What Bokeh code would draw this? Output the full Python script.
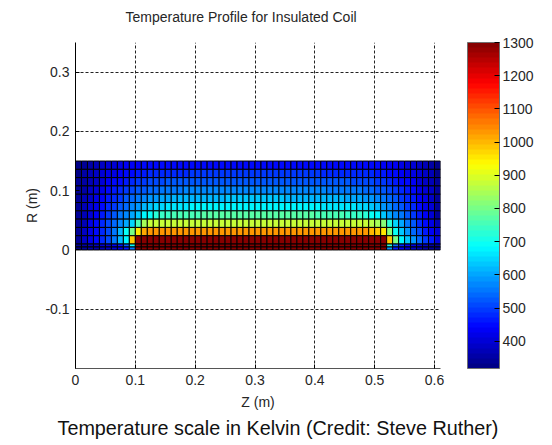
import math
from bokeh.plotting import figure
from bokeh.models import (Range1d, FixedTicker, ColorBar, LinearColorMapper, Title,
                          ColumnDataSource)
from bokeh.transform import linear_cmap
from bokeh.embed import file_html
from bokeh.resources import INLINE

# ---------------- data ----------------
z_edges = [0.00, 0.01, 0.02, 0.03, 0.04, 0.05, 0.06, 0.07, 0.08, 0.09,
           0.10, 0.11, 0.12, 0.13, 0.14, 0.15, 0.16, 0.17, 0.18, 0.19,
           0.20, 0.21, 0.22, 0.23, 0.24, 0.25, 0.26, 0.27, 0.28, 0.29,
           0.30, 0.31, 0.32, 0.33, 0.34, 0.35, 0.36, 0.37, 0.38, 0.39,
           0.40, 0.41, 0.42, 0.43, 0.44, 0.45, 0.46, 0.47, 0.48, 0.49,
           0.50, 0.51, 0.52, 0.53, 0.54, 0.55, 0.56, 0.57, 0.58, 0.59,
           0.60, 0.61]
r_edges = [0.150, 0.136, 0.122, 0.108, 0.094, 0.080, 0.066, 0.052,
           0.038, 0.024, 0.010, 0.005, 0.000]

temp_r0 = ([330, 345, 360, 372, 385, 397, 408, 418, 426, 433, 438, 442, 445, 447, 449] +
           [450, 451, 451, 452, 452, 453, 453, 453, 454, 454, 454, 454, 455, 455, 455, 455,
            455, 455, 455, 454, 454, 454, 454, 453, 453, 453, 452, 452, 451, 451, 450] +
           [450, 449, 447, 445, 442, 438, 433, 426, 418, 408, 397, 385, 372, 360, 330])
temp_r1 = ([333, 350, 367, 382, 397, 411, 424, 436, 446, 455, 462, 468, 473, 477, 480] +
           [482, 484, 485, 486, 487, 488, 488, 489, 489, 489, 490, 490, 490, 490, 490, 490,
            490, 490, 490, 490, 489, 489, 489, 488, 488, 487, 486, 485, 484, 483, 482] +
           [481, 480, 477, 473, 468, 462, 455, 446, 436, 424, 411, 397, 382, 367, 333])
temp_r2 = ([336, 356, 375, 393, 410, 426, 441, 455, 468, 480, 490, 499, 506, 512, 516] +
           [519, 521, 523, 524, 525, 526, 526, 527, 527, 527, 528, 528, 528, 528, 528, 528,
            528, 528, 528, 528, 527, 527, 527, 526, 526, 525, 524, 523, 522, 520, 518] +
           [517, 516, 512, 506, 499, 490, 480, 468, 455, 441, 426, 410, 393, 375, 336])
temp_r3 = ([338, 361, 383, 404, 424, 442, 460, 477, 493, 508, 521, 532, 541, 548, 554] +
           [558, 561, 563, 564, 565, 566, 566, 567, 567, 567, 568, 568, 568, 568, 568, 568,
            568, 568, 568, 568, 567, 567, 567, 566, 566, 565, 564, 563, 561, 559, 557] +
           [556, 554, 548, 541, 532, 521, 508, 493, 477, 460, 442, 424, 404, 383, 338])
temp_r4 = ([341, 366, 391, 414, 437, 459, 480, 500, 520, 539, 556, 571, 584, 594, 602] +
           [608, 612, 615, 618, 620, 621, 622, 623, 624, 624, 625, 625, 625, 625, 625, 625,
            625, 625, 625, 625, 624, 624, 624, 623, 622, 621, 620, 618, 615, 612, 608] +
           [605, 602, 594, 584, 571, 556, 539, 520, 500, 480, 459, 437, 414, 391, 341])
temp_r5 = ([343, 371, 398, 424, 450, 475, 500, 524, 548, 572, 594, 614, 631, 645, 655] +
           [661, 665, 668, 670, 671, 672, 673, 673, 674, 674, 674, 674, 674, 674, 674, 674,
            674, 674, 674, 674, 674, 674, 673, 673, 672, 671, 670, 668, 665, 662, 658] +
           [656, 655, 645, 631, 614, 594, 572, 548, 524, 500, 475, 450, 424, 398, 343])
temp_r6 = ([345, 375, 405, 434, 463, 491, 520, 549, 578, 608, 640, 672, 700, 722, 738] +
           [746, 752, 756, 759, 761, 762, 763, 764, 764, 765, 765, 765, 765, 765, 765, 765,
            765, 765, 765, 765, 765, 765, 764, 764, 763, 762, 761, 759, 756, 752, 746] +
           [742, 738, 722, 700, 672, 640, 608, 578, 549, 520, 491, 463, 434, 405, 345])
temp_r7 = ([347, 379, 411, 443, 475, 507, 540, 570, 600, 650, 760, 850, 872, 878, 880] +
           [881, 882, 882, 883, 883, 883, 884, 884, 884, 884, 884, 884, 884, 884, 884, 884,
            884, 884, 884, 884, 884, 884, 884, 883, 883, 883, 882, 882, 882, 881, 881] +
           [880, 878, 872, 862, 845, 810, 720, 650, 600, 560, 520, 485, 450, 415, 370])
temp_r8 = ([348, 380, 412, 445, 478, 512, 555, 610, 700, 800, 950, 1010, 1028, 1032, 1034] +
           [1035, 1035, 1036, 1036, 1036, 1036, 1036, 1037, 1037, 1037, 1037, 1037, 1037, 1037,
            1037, 1037, 1037, 1037, 1037, 1037, 1037, 1037, 1037, 1036, 1036, 1036, 1036, 1036,
            1035, 1035, 1035] +
           [1033, 1030, 1025, 1005, 985, 960, 820, 700, 640, 590, 545, 505, 470, 435, 395])
temp_r9 = ([345, 380, 420, 450, 479, 515, 557, 613, 672, 980, 1300, 1300, 1300, 1300, 1300] +
           [1300] * 31 +
           [1300, 1300, 1300, 1300, 1300, 1300, 980, 802, 686, 633, 585, 547, 499, 469, 407])
temp_r10 = ([335, 350, 365, 380, 395, 410, 430, 460, 520, 700, 1300, 1300, 1300, 1300, 1300] +
            [1300] * 31 +
            [1300, 1300, 1300, 1300, 1300, 1300, 720, 540, 480, 450, 420, 400, 380, 360, 340])
temp_r11 = ([330, 340, 350, 360, 370, 380, 395, 420, 460, 560, 1300, 1300, 1300, 1300, 1300] +
            [1300] * 31 +
            [1300, 1300, 1300, 1300, 1300, 1300, 580, 470, 430, 400, 380, 365, 350, 340, 330])
temp_rows = [temp_r0, temp_r1, temp_r2, temp_r3, temp_r4, temp_r5, temp_r6,
             temp_r7, temp_r8, temp_r9, temp_r10, temp_r11]

t_low, t_high = 318, 1300
cbar_ticks = [400, 500, 600, 700, 800, 900, 1000, 1100, 1200, 1300]
x_ticks = [0, 0.1, 0.2, 0.3, 0.4, 0.5, 0.6]
x_tick_labels = ["0", "0.1", "0.2", "0.3", "0.4", "0.5", "0.6"]
y_ticks = [-0.1, 0, 0.1, 0.2, 0.3]
y_tick_labels = ["-0.1", "0", "0.1", "0.2", "0.3"]

title_text = "Temperature Profile for Insulated Coil"
x_label_text = "Z (m)"
y_label_text = "R (m)"
caption_text = "Temperature scale in Kelvin (Credit: Steve Ruther)"

# ---------------- jet colormap (64 levels) ----------------
def _clip(v):
    return max(0.0, min(1.0, v))

jet64 = []
for i in range(64):
    t = (i + 0.5) / 64
    r = _clip(1.5 - abs(4 * t - 3))
    g = _clip(1.5 - abs(4 * t - 2))
    b = _clip(1.5 - abs(4 * t - 1))
    jet64.append("#%02x%02x%02x" % (round(r * 255), round(g * 255), round(b * 255)))

# ---------------- cells ----------------
L, R, B, T, V = [], [], [], [], []
for ri, row in enumerate(temp_rows):
    for ci, val in enumerate(row):
        L.append(z_edges[ci]); R.append(z_edges[ci + 1])
        T.append(r_edges[ri]); B.append(r_edges[ri + 1])
        V.append(val)
src = ColumnDataSource(dict(left=L, right=R, bottom=B, top=T, temp=V))

FONT = "Liberation Sans"
TXT = "#262626"

p = figure(width=552, height=445, x_range=Range1d(0, 0.61), y_range=Range1d(-0.2, 0.35),
           output_backend="svg", toolbar_location=None, title=None,
           min_border_left=75, min_border_right=112, min_border_top=42, min_border_bottom=77)
p.outline_line_color = None
p.background_fill_color = "white"
p.border_fill_color = "white"

p.quad(left="left", right="right", bottom="bottom", top="top", source=src,
       fill_color=linear_cmap("temp", jet64, t_low, t_high),
       line_color="black", line_width=1)

# axes
p.xaxis.ticker = FixedTicker(ticks=x_ticks)
p.yaxis.ticker = FixedTicker(ticks=y_ticks)
p.xaxis.major_label_overrides = {k: v for k, v in zip(x_ticks, x_tick_labels)}
p.yaxis.major_label_overrides = {k: v for k, v in zip(y_ticks, y_tick_labels)}
p.xaxis.axis_label = x_label_text
p.yaxis.axis_label = y_label_text
for ax in (p.xaxis[0], p.yaxis[0]):
    ax.major_tick_in = 4
    ax.major_tick_out = 0
    ax.minor_tick_line_color = None
    ax.major_label_text_font = FONT
    ax.major_label_text_font_size = "14px"
    ax.major_label_text_color = TXT
    ax.major_label_standoff = 6
    ax.major_tick_line_color = "black"
    ax.axis_label_text_font = FONT
    ax.axis_label_text_font_size = "14px"
    ax.axis_label_text_font_style = "normal"
    ax.axis_label_text_color = TXT
p.xaxis.axis_label_standoff = 6
p.yaxis.axis_label_standoff = 2
p.yaxis.axis_line_color = "black"
p.xaxis.axis_line_color = "#555555"

for g in (p.xgrid[0], p.ygrid[0]):
    g.grid_line_color = "#222222"
    g.grid_line_dash = "3 2"
    g.grid_line_width = 1
p.xgrid.ticker = FixedTicker(ticks=x_ticks)
p.ygrid.ticker = FixedTicker(ticks=y_ticks)

# colorbar
mapper = LinearColorMapper(palette=jet64, low=t_low, high=t_high)
cb = ColorBar(color_mapper=mapper, ticker=FixedTicker(ticks=cbar_ticks), width=32,
              location=(27, 0), padding=0, margin=0, label_standoff=3,
              bar_line_color="#707070", border_line_color=None, background_fill_alpha=0,
              major_tick_line_color="black", major_tick_in=5, major_tick_out=0,
              minor_tick_line_color=None,
              major_label_text_font=FONT, major_label_text_font_size="14px",
              major_label_text_color=TXT)
p.add_layout(cb, "right")

# title (with a blank spacer between it and the frame) and caption
p.add_layout(Title(text=" ", text_font_size="1px", standoff=10), "above")
p.add_layout(Title(text=title_text, align="left", offset=50, standoff=10,
                   vertical_align="bottom", text_font=FONT, text_font_size="14px",
                   text_font_style="normal", text_color=TXT), "above")
p.add_layout(Title(text=caption_text, align="left", offset=-18, standoff=4,
                   text_font=FONT, text_font_size="19.8px",
                   text_font_style="normal", text_color="#111111"), "below")

open("out.html", "w").write(file_html(p, INLINE))
